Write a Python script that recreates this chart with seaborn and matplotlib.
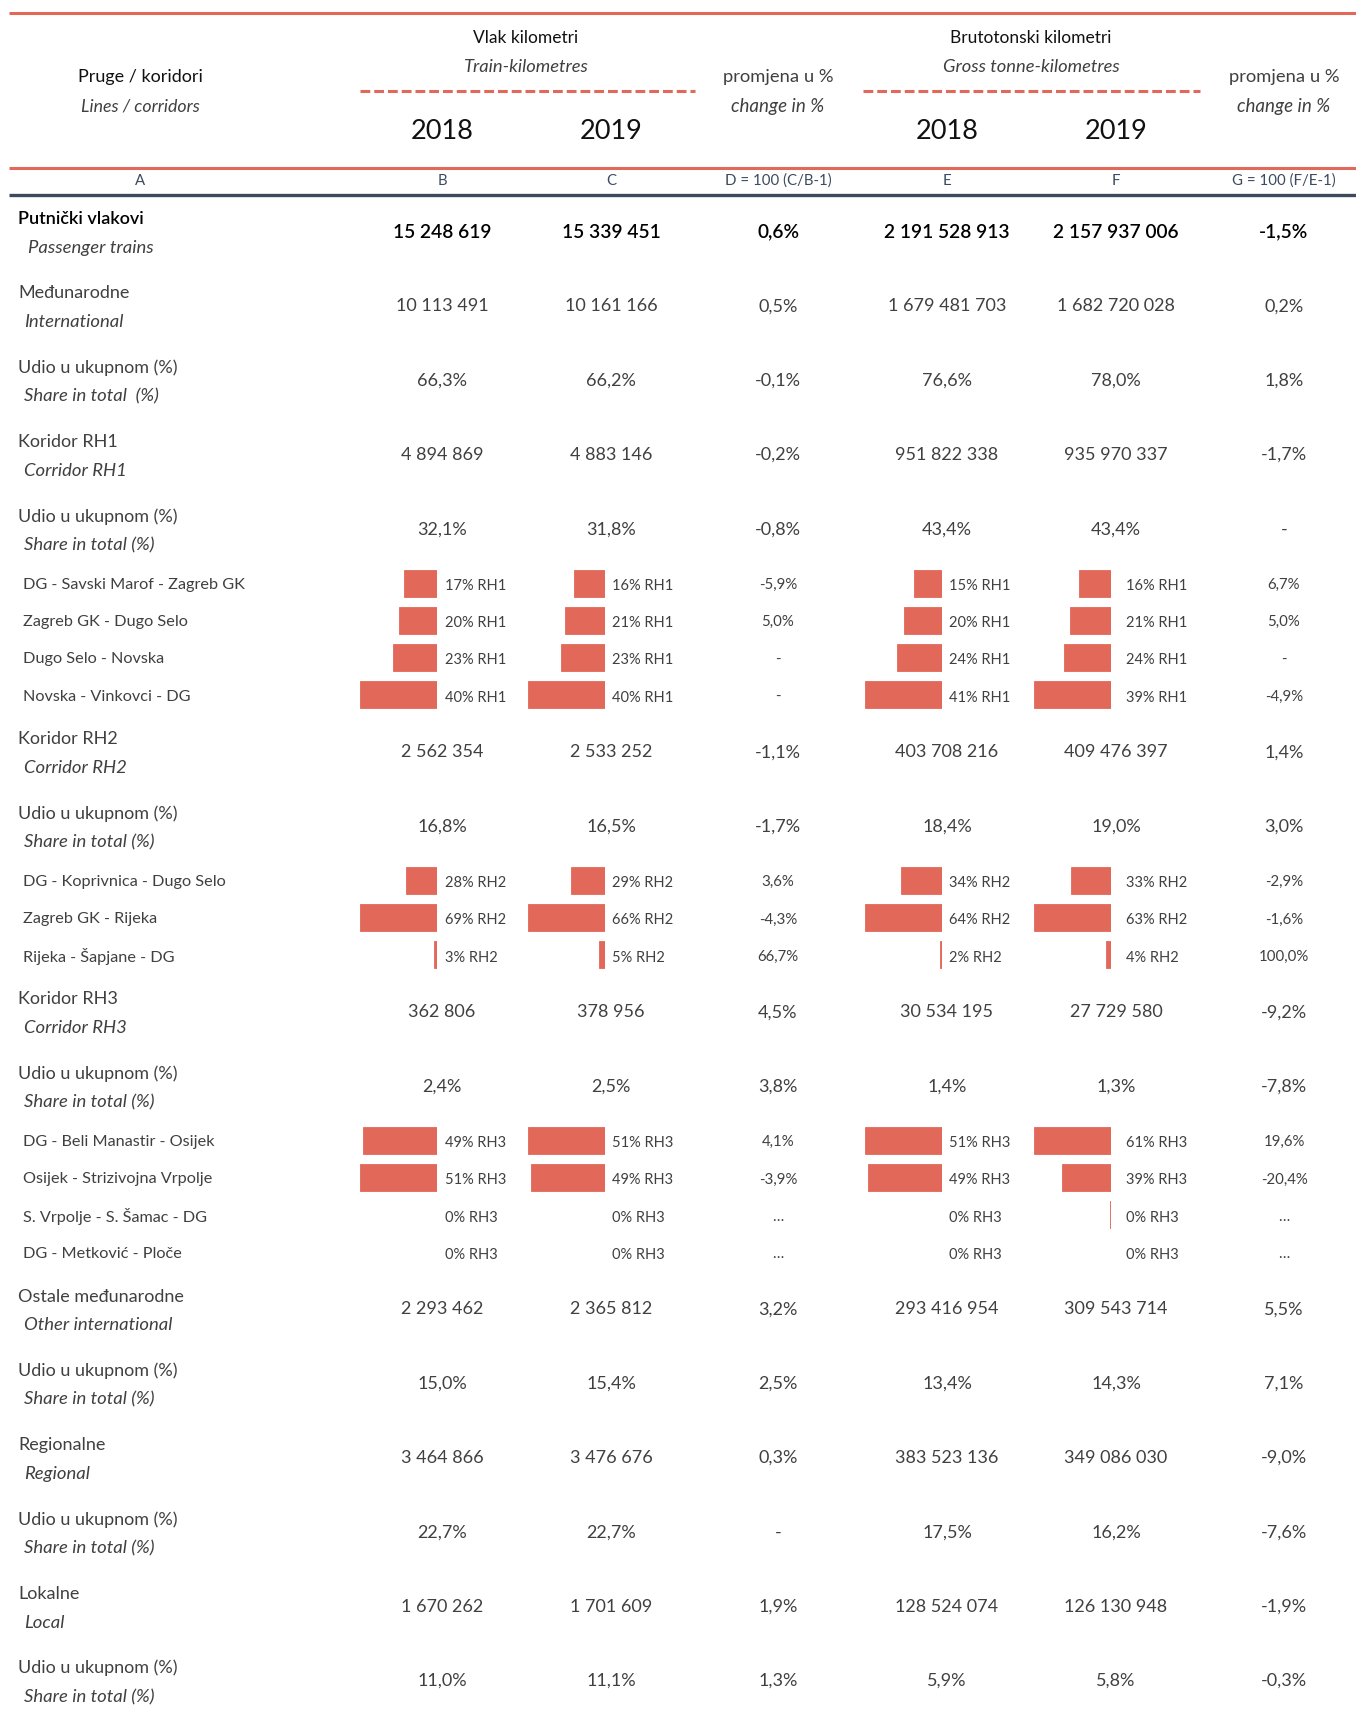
import numpy as np
import pandas as pd
import matplotlib
matplotlib.use("Agg")
import matplotlib.pyplot as plt
import seaborn as sns

# ---- data ----
row_hr = ["Putnički vlakovi", "Međunarodne", "Udio u ukupnom (%)", "Koridor RH1", "Udio u ukupnom (%)",
          "DG - Savski Marof - Zagreb GK", "Zagreb GK - Dugo Selo", "Dugo Selo - Novska", "Novska - Vinkovci - DG",
          "Koridor RH2", "Udio u ukupnom (%)",
          "DG - Koprivnica - Dugo Selo", "Zagreb GK - Rijeka", "Rijeka - Šapjane - DG",
          "Koridor RH3", "Udio u ukupnom (%)",
          "DG - Beli Manastir - Osijek", "Osijek - Strizivojna Vrpolje", "S. Vrpolje - S. Šamac - DG", "DG - Metković - Ploče",
          "Ostale međunarodne", "Udio u ukupnom (%)", "Regionalne", "Udio u ukupnom (%)", "Lokalne", "Udio u ukupnom (%)"]
row_en = ["Passenger trains", "International", "Share in total  (%)", "Corridor RH1", "Share in total (%)",
          "", "", "", "",
          "Corridor RH2", "Share in total (%)",
          "", "", "",
          "Corridor RH3", "Share in total (%)",
          "", "", "", "",
          "Other international", "Share in total (%)", "Regional", "Share in total (%)", "Local", "Share in total (%)"]
row_kind = ["total", "abs", "share", "abs", "share",
            "RH1", "RH1", "RH1", "RH1",
            "abs", "share",
            "RH2", "RH2", "RH2",
            "abs", "share",
            "RH3", "RH3", "RH3", "RH3",
            "abs", "share", "abs", "share", "abs", "share"]

train_2018 = [15248619, 10113491, 66.3, 4894869, 32.1, 17, 20, 23, 40, 2562354, 16.8, 28, 69, 3,
              362806, 2.4, 49, 51, 0, 0, 2293462, 15.0, 3464866, 22.7, 1670262, 11.0]
train_2019 = [15339451, 10161166, 66.2, 4883146, 31.8, 16, 21, 23, 40, 2533252, 16.5, 29, 66, 5,
              378956, 2.5, 51, 49, 0, 0, 2365812, 15.4, 3476676, 22.7, 1701609, 11.1]
train_chg = [0.6, 0.5, -0.1, -0.2, -0.8, -5.9, 5.0, None, None, -1.1, -1.7, 3.6, -4.3, 66.7,
             4.5, 3.8, 4.1, -3.9, "...", "...", 3.2, 2.5, 0.3, None, 1.9, 1.3]
gtk_2018 = [2191528913, 1679481703, 76.6, 951822338, 43.4, 15, 20, 24, 41, 403708216, 18.4, 34, 64, 2,
            30534195, 1.4, 51, 49, 0, 0, 293416954, 13.4, 383523136, 17.5, 128524074, 5.9]
gtk_2019 = [2157937006, 1682720028, 78.0, 935970337, 43.4, 16, 21, 24, 39, 409476397, 19.0, 33, 63, 4,
            27729580, 1.3, 61, 39, 0.45, 0, 309543714, 14.3, 349086030, 16.2, 126130948, 5.8]
gtk_chg = [-1.5, 0.2, 1.8, -1.7, None, 6.7, 5.0, None, -4.9, 1.4, 3.0, -2.9, -1.6, 100.0,
           -9.2, -7.8, 19.6, -20.4, "...", "...", 5.5, 7.1, -9.0, -7.6, -1.9, -0.3]

col_letters = ["A", "B", "C", "D = 100 (C/B-1)", "E", "F", "G = 100 (F/E-1)"]
years = ["2018", "2019"]

# ---- style ----
sns.set_theme(style="white")
plt.rcParams["font.family"] = ["Lato", "DejaVu Sans"]
RED = "#E2685A"
NAVY = "#3C4A5E"
DARK = "#111111"
GREY = "#404040"
W, H = 1356, 1711


def fmt_abs(v):
    return f"{int(v):,}".replace(",", " ")


def fmt_pct(v):
    if v is None:
        return "-"
    if isinstance(v, str):
        return "…"
    return f"{v:.1f}".replace(".", ",") + "%"


fig = plt.figure(figsize=(W / 100, H / 100), dpi=100)
ax = fig.add_axes([0, 0, 1, 1])
ax.set_xlim(0, W)
ax.set_ylim(H, 0)
ax.axis("off")

col_x = [140, 442, 611, 778, 947, 1116, 1284]
bar_right = [437, 605, 942, 1111]
label_gap = [8, 7, 7, 15]

# header
ax.plot([9, W], [13, 13], color=RED, lw=2.2, solid_capstyle="butt")
ax.text(col_x[0], 77, "Pruge / koridori", ha="center", va="center", fontsize=13, color=DARK)
ax.text(col_x[0], 106, "Lines / corridors", ha="center", va="center", fontsize=12.8, color=GREY, style="italic")
for cx, t1, t2 in [(526, "Vlak kilometri", "Train-kilometres"), (1031, "Brutotonski kilometri", "Gross tonne-kilometres")]:
    ax.text(cx, 38, t1, ha="center", va="center", fontsize=12.5, color=DARK)
    ax.text(cx, 67, t2, ha="center", va="center", fontsize=13.2, color=GREY, style="italic")
for x0, x1 in [(360, 695), (863, 1200)]:
    ax.plot([x0, x1], [91, 91], color=RED, lw=2.2, ls=(0, (3.2, 1.3)))
for cx in [col_x[3], col_x[6]]:
    ax.text(cx, 77, "promjena u %", ha="center", va="center", fontsize=13.2, color=GREY)
    ax.text(cx, 106, "change in %", ha="center", va="center", fontsize=13.5, color=GREY, style="italic")
for i, cx in enumerate([col_x[1], col_x[2], col_x[4], col_x[5]]):
    ax.text(cx, 131, years[i % 2], ha="center", va="center", fontsize=19.5, color=DARK)
ax.plot([9, W], [168, 168], color=RED, lw=2.2, solid_capstyle="butt")
for cx, t in zip(col_x, col_letters):
    ax.text(cx, 181, t, ha="center", va="center", fontsize=10.8, color=NAVY)
ax.plot([9, W], [195, 195], color=NAVY, lw=2.4, solid_capstyle="butt")

# row layout
U = 37.15
heights = [1 if k.startswith("RH") else 2 for k in row_kind]
tops = 193 + U * np.concatenate([[0], np.cumsum(heights)[:-1]])
centers = tops + np.array(heights) * U / 2

for i, kind in enumerate(row_kind):
    yc = centers[i]
    if kind.startswith("RH"):
        yt = yc + 2
        ax.text(23, yt, row_hr[i], ha="left", va="center", fontsize=11.7, color=GREY)
        ax.text(col_x[3], yt, fmt_pct(train_chg[i]), ha="center", va="center", fontsize=10.8, color=GREY)
        ax.text(col_x[6], yt, fmt_pct(gtk_chg[i]), ha="center", va="center", fontsize=10.8, color=GREY)
        for bx, gap, vals in zip(bar_right, label_gap, [train_2018, train_2019, gtk_2018, gtk_2019]):
            ax.text(bx + gap, yt + 1, f"{vals[i]:.0f}% {kind}", ha="left", va="center", fontsize=10.5,
                    color=GREY)
        continue
    bold = kind == "total"
    yc = yc + 2
    ax.text(18, yc - 13, row_hr[i], ha="left", va="center", fontsize=13,
            color="#000000" if bold else GREY, fontweight="semibold" if bold else "normal")
    ax.text(28 if bold else 24, yc + 16, row_en[i], ha="left", va="center", fontsize=13.3, color=GREY,
            style="italic")
    vals = [train_2018[i], train_2019[i], train_chg[i], gtk_2018[i], gtk_2019[i], gtk_chg[i]]
    for j, v in enumerate(vals):
        if j in (2, 5) or kind == "share":
            s = fmt_pct(v)
        else:
            s = fmt_abs(v)
        ax.text(col_x[j + 1], yc, s, ha="center", va="center", fontsize=13.8 if bold else 13,
                color="#000000" if bold else GREY, fontweight="semibold" if bold else "normal")

# bars: one small seaborn axes per corridor block and column
for corr in ["RH1", "RH2", "RH3"]:
    idx = [i for i, k in enumerate(row_kind) if k == corr]
    y_top = tops[idx[0]]
    y_bot = tops[idx[-1]] + U
    for bx, vals in zip(bar_right, [train_2018, train_2019, gtk_2018, gtk_2019]):
        df = pd.DataFrame({"route": [row_hr[i] for i in idx], "share": [vals[i] for i in idx]})
        bax = fig.add_axes([(bx - 77) / W, 1 - y_bot / H, 77 / W, (y_bot - y_top) / H])
        sns.barplot(data=df, x="share", y="route", orient="h", color=RED, saturation=1,
                    width=0.73, ax=bax, edgecolor=RED, linewidth=0.6)
        for patch, v in zip(bax.patches, df["share"]):
            if v == 0:
                patch.set_visible(False)
        bax.set_xlim(df["share"].max(), 0)
        bax.axis("off")

fig.savefig("out.png", dpi=100)
